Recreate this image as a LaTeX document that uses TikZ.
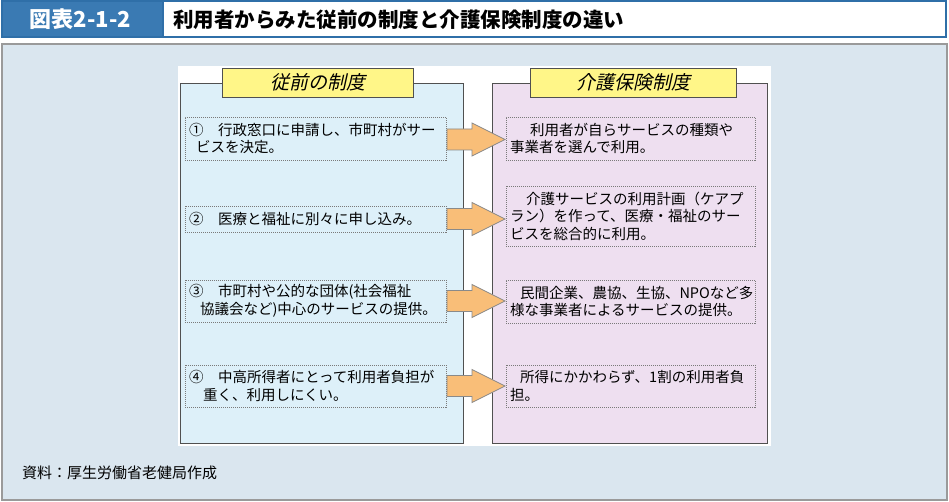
\documentclass[tikz,border=0pt]{standalone}
\usepackage{fontspec}
\setmainfont{Noto Sans CJK JP}
\newfontfamily\jpslant[FakeSlant=0.22]{Noto Sans CJK JP}
\usetikzlibrary{calc}
\definecolor{hdrblue}{HTML}{2F6FA8}
\definecolor{tagblue}{HTML}{3A7AB3}
\definecolor{panelbg}{HTML}{DAE6EF}
\definecolor{panelline}{HTML}{9A9A9A}
\definecolor{leftfill}{HTML}{DDF0F9}
\definecolor{rightfill}{HTML}{EEDFF0}
\definecolor{labelfill}{HTML}{FFF688}
\definecolor{arrowfill}{HTML}{F9BE78}
\definecolor{arrowline}{HTML}{8A8A8A}
\definecolor{dotgray}{HTML}{7A7A7A}
\definecolor{boxline}{HTML}{505050}
\begin{document}
\begin{tikzpicture}[x=1pt,y=-1pt,
  rectbox/.style={anchor=north west, inner sep=0pt, outer sep=0pt},
  colbox/.style={rectbox, draw=boxline, line width=0.9pt},
  labelbox/.style={rectbox, draw=boxline, line width=0.9pt, fill=labelfill, minimum height=29pt, font=\jpslant\fontsize{19}{21}\selectfont},
  dbox/.style={anchor=north west, draw=dotgray, dash pattern=on 1pt off 1pt, line width=0.8pt, inner xsep=4pt, inner ysep=0pt, outer sep=0pt, align=left, font=\fontsize{14.5}{17.5}\selectfont},
  fatarrow/.style={draw=arrowline, line width=0.8pt, fill=arrowfill, line join=miter}
]
\useasboundingbox (0,0) rectangle (949,502);
% header
\node[rectbox, draw=hdrblue, line width=2pt, fill=white, minimum width=944pt, minimum height=36pt] (hdr) at (2,1) {};
\node[rectbox, fill=tagblue, minimum width=161pt, minimum height=36pt] (tag) at (2,1) {};
\draw[hdrblue, line width=2pt] (tag.north west) rectangle (tag.south east);
\node[white, font=\bfseries\fontsize{22}{24}\selectfont] (tagtext) at ([xshift=-2pt]tag.center) {図表2-1-2};
\node[anchor=west, inner sep=0pt, font=\bfseries\fontsize{20.5}{22}\selectfont] (title) at (173,19.5) {利用者からみた従前の制度と介護保険制度の違い};
% panel
\node[rectbox, draw=panelline, line width=1.2pt, fill=panelbg, minimum width=945pt, minimum height=456pt] (panel) at (2,44) {};
\node[rectbox, fill=white, minimum width=593pt, minimum height=380pt] (inner) at (178,66) {};
% column boxes
\node[colbox, fill=leftfill, minimum width=283pt, minimum height=360pt] (lcol) at (180,83) {};
\node[colbox, fill=rightfill, minimum width=275pt, minimum height=360pt] (rcol) at (492,83) {};
\node[labelbox, minimum width=191pt] (llab) at (222,68) {従前の制度};
\node[labelbox, minimum width=206pt] (rlab) at (530,68) {介護保険制度};
% left items
\node[dbox, text width=253pt, minimum width=261pt, minimum height=43pt] (l1) at (185,117)
  {①　行政窓口に申請し、市町村がサー\\\hspace*{7pt}ビスを決定。};
\node[dbox, text width=253pt, minimum width=261pt, minimum height=26pt] (l2) at (185,206)
  {②　医療と福祉に別々に申し込み。};
\node[dbox, text width=253pt, minimum width=261pt, minimum height=42pt] (l3) at (185,280)
  {③　市町村や公的な団体(社会福祉\\\hspace*{11pt}協議会など)中心のサービスの提供。};
\node[dbox, text width=253pt, minimum width=261pt, minimum height=42pt] (l4) at (185,365)
  {④　中高所得者にとって利用者負担が\\\hspace*{14pt}重く、利用しにくい。};
% right items
\node[dbox, text width=241pt, minimum width=249pt, minimum height=43pt] (r1) at (506,117)
  {\hspace*{20pt}利用者が自らサービスの種類や\\事業者を選んで利用。};
\node[dbox, text width=241pt, minimum width=249pt, minimum height=60pt] (r2) at (506,186)
  {\hspace*{16pt}介護サービスの利用計画（ケアプ\\ラン）を作って、医療・福祉のサー\\ビスを総合的に利用。};
\node[dbox, text width=241pt, minimum width=249pt, minimum height=43pt] (r3) at (506,280)
  {\hspace*{10pt}民間企業、農協、生協、NPOなど多\\様な事業者によるサービスの提供。};
\node[dbox, text width=241pt, minimum width=249pt, minimum height=42pt] (r4) at (506,365)
  {\hspace*{10pt}所得にかかわらず、1割の利用者負\\担。};
% arrows
\foreach \a/\b/\dy in {l1/r1/1, l2/r2/0, l3/r3/0, l4/r4/0}{
  \draw[fatarrow] ($(\a.east)+(1,\dy-10.5)$) -- ($(\a.east)+(26,\dy-10.5)$) -- ($(\a.east)+(26,\dy-16.5)$)
     -- ($(\b.west |- \a.east)+(-1,\dy)$) -- ($(\a.east)+(26,\dy+16.5)$) -- ($(\a.east)+(26,\dy+10.5)$)
     -- ($(\a.east)+(1,\dy+10.5)$) -- cycle;
}
% footer
\node[anchor=west, inner sep=0pt, font=\fontsize{15}{17}\selectfont] (src) at (22,473) {資料：厚生労働省老健局作成};
\end{tikzpicture}
\end{document}
